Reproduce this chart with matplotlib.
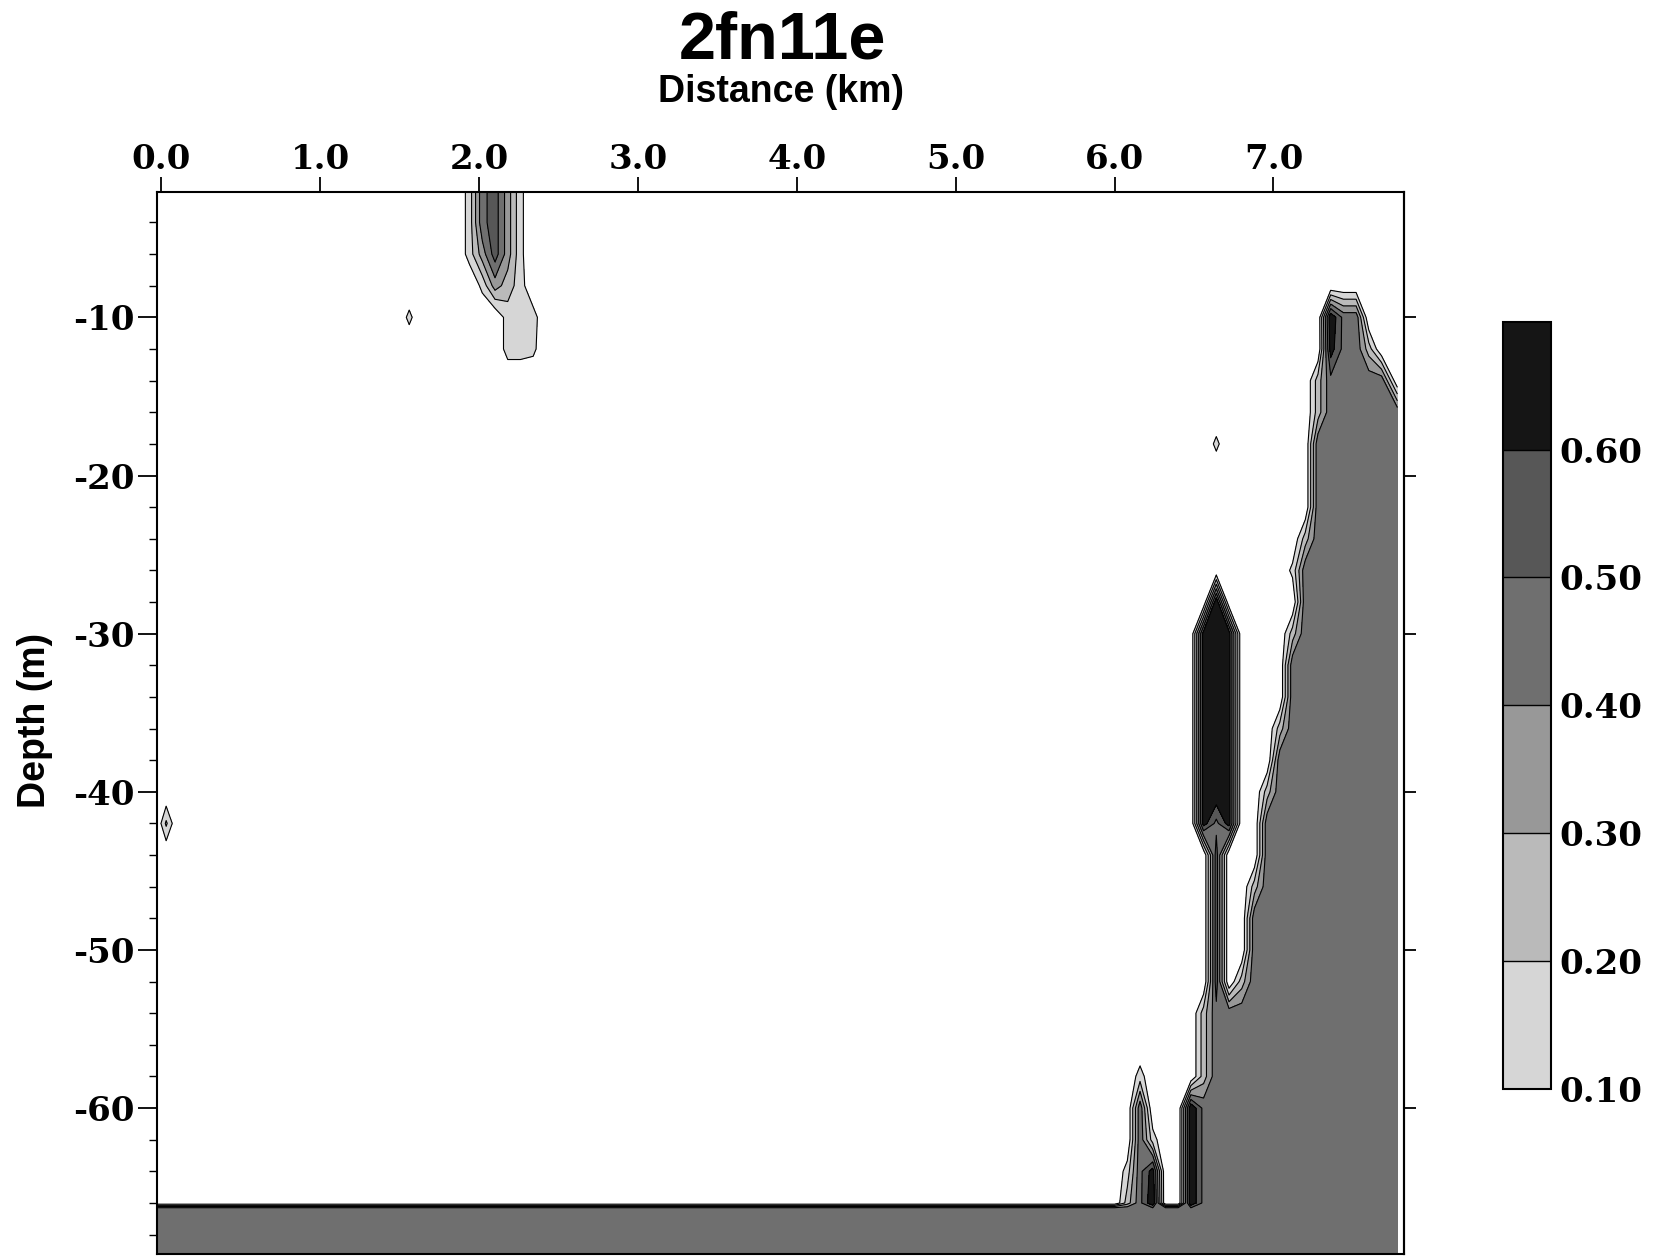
import numpy as np
import matplotlib.pyplot as plt

# stations along the section (km)
dist_km = [-0.03, 0.03, 0.10, 1.48, 1.56, 1.64, 1.86, 1.94, 2.02, 2.10, 2.18, 2.26, 2.34, 2.42, 2.50,
           5.92, 6.00, 6.08, 6.16, 6.24, 6.32, 6.40, 6.48, 6.56, 6.64, 6.72, 6.80, 6.88, 6.96,
           7.04, 7.12, 7.20, 7.28, 7.36, 7.44, 7.52, 7.60, 7.68, 7.78]

# depth bins (m)
depth_m = [-2, -4, -6, -8, -10, -12, -14, -16, -18, -20, -22, -24, -26, -28, -30, -32, -34,
           -36, -38, -40, -42, -44, -46, -48, -50, -52, -54, -56, -58, -60, -62, -64, -66,
           -66.35, -69.3]

# one string per depth bin, one character per station
# (first block: stations up to 2.5 km, second block: 5.92 km onwards)
grid_rows = [
    ".......1453a... ........................",
    ".......1453a... ........................",
    ".......1353a... ........................",
    "........a321... ........................",
    "....a.....111.. ..................744...",
    "..........11a.. ..................6442..",
    "............... .................244444.",
    "............... .................2444444",
    "............... .........a.......4444444",
    "............... .................4444444",
    "............... .................4444444",
    "............... ................24444444",
    "............... ...............a44444444",
    "............... .........7......44444444",
    "............... ........676....244444444",
    "............... ........676....444444444",
    "............... ........676....444444444",
    "............... ........676...2444444444",
    "............... ........676...4444444444",
    "............... ........676..24444444444",
    ".b............. ........646..44444444444",
    "............... .........5...44444444444",
    "............... .........5..244444444444",
    "............... .........5..444444444444",
    "............... .........5..444444444444",
    "............... .........5.2444444444444",
    "............... ........2444444444444444",
    "............... ........2444444444444444",
    "............... ...1....2444444444444444",
    "............... ...4...74444444444444444",
    "............... ...41..74444444444444444",
    "............... ..146..74444444444444444",
    "............... ..247..74444444444444444",
    "444444444444444 444444444444444444444444",
    "444444444444444 444444444444444444444444",
]

# value behind each character
code_value = {'.': 0.0, 'a': 0.13, 'b': 0.22, '1': 0.15, '2': 0.25, '3': 0.35,
              '4': 0.47, '5': 0.55, '6': 0.65, '7': 0.69}

levels = [0.10, 0.20, 0.30, 0.40, 0.50, 0.60, 0.70]
shades = ['#d6d6d6', '#bababa', '#989898', '#6f6f6f', '#575757', '#151515']

x_ticks = [0, 1, 2, 3, 4, 5, 6, 7]
x_labels = ['0.0', '1.0', '2.0', '3.0', '4.0', '5.0', '6.0', '7.0']
y_ticks = [-10, -20, -30, -40, -50, -60]
y_labels = ['-10', '-20', '-30', '-40', '-50', '-60']
y_minor = [-4, -6, -8, -12, -14, -16, -18, -22, -24, -26, -28, -32, -34, -36, -38,
           -42, -44, -46, -48, -52, -54, -56, -58, -62, -64, -66, -68]
cbar_ticks = [0.10, 0.20, 0.30, 0.40, 0.50, 0.60]

Z = np.array([[code_value[c] for c in row.replace(' ', '')] for row in grid_rows])
X, Y = np.meshgrid(dist_km, depth_m)

fig = plt.figure(figsize=(16.54, 12.57), dpi=100)
ax = fig.add_axes([0.0947, 0.0027, 0.754, 0.8446])

cf = ax.contourf(X, Y, Z, levels=levels, colors=shades)
ax.contour(X, Y, Z, levels=levels, colors='black', linewidths=0.8)

ax.set_xlim(-0.03, 7.82)
ax.set_ylim(-69.2, -2.07)

tick_font = {'family': 'DejaVu Serif', 'weight': 'bold', 'size': 24.5}

ax.xaxis.tick_top()
ax.set_xticks(x_ticks)
ax.set_xticklabels(x_labels, fontdict=tick_font)
ax.tick_params(axis='x', which='major', direction='out', length=10.8, width=1.3, pad=1)

ax.set_yticks(y_ticks)
ax.set_yticklabels(y_labels, fontdict=tick_font)
ax.set_yticks(y_minor, minor=True)
ax.tick_params(axis='y', which='major', direction='out', length=13.7, width=1.3, pad=2)
ax.tick_params(axis='y', which='minor', direction='out', length=6, width=1.0)

for side in ['top', 'left', 'right', 'bottom']:
    ax.spines[side].set_linewidth(1.5)

# ticks on the right edge, no labels
right = ax.secondary_yaxis('right')
right.set_yticks(y_ticks)
right.set_yticklabels([])
right.tick_params(length=8.6, width=1.3)
right.spines['right'].set_linewidth(1.5)

fig.text(0.473, 0.967, '2fn11e', ha='center', va='center',
         family='Liberation Sans', weight='bold', fontsize=48)
fig.text(0.472, 0.927, 'Distance (km)', ha='center', va='center',
         family='Liberation Sans', weight='bold', fontsize=27)
fig.text(0.021, 0.427, 'Depth (m)', ha='center', va='center', rotation=90,
         family='Liberation Sans', weight='bold', fontsize=27)

cax = fig.add_axes([0.9087, 0.134, 0.0288, 0.610])
cb = fig.colorbar(cf, cax=cax, ticks=cbar_ticks, drawedges=True)
cb.ax.set_yticklabels(['%.2f' % t for t in cbar_ticks], fontdict=tick_font)
cb.ax.tick_params(length=0, pad=6)
cb.outline.set_linewidth(1.5)
cb.dividers.set_linewidth(1.0)

fig.savefig('out.png', dpi=100)
